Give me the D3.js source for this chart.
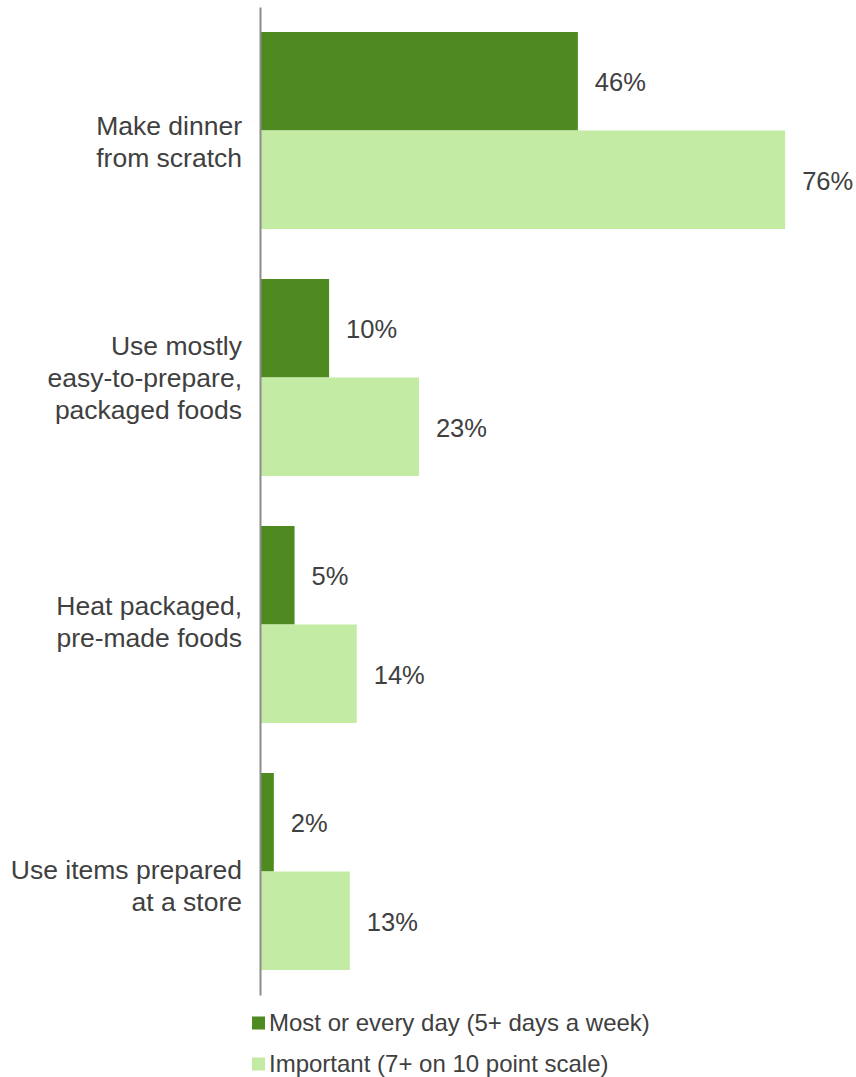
<!DOCTYPE html>
<html>
<head>
<meta charset="utf-8">
<script src="https://cdn.jsdelivr.net/npm/d3@7"></script>
<style>
  html, body { margin: 0; padding: 0; background: #fff; }
  svg { display: block; }
  text { font-family: "Liberation Sans", Arial, sans-serif; fill: #404040; }
</style>
</head>
<body>
<svg id="chart" width="856" height="1077"></svg>
<script>
// Dinner preparation habits
const categories = [
  ["Make dinner", "from scratch"],
  ["Use mostly", "easy-to-prepare,", "packaged foods"],
  ["Heat packaged,", "pre-made foods"],
  ["Use items prepared", "at a store"]
];
const seriesNames = [
  "Most or every day (5+ days a week)",
  "Important (7+ on 10 point scale)"
];
const mostDays = [46, 10, 5, 2];
const important = [76, 23, 14, 13];
const seriesColors = ["#4e8a1f", "#c4eba4"];

// vertical nudge of each category label block relative to its band centre
const labelNudge = [11, 0, -3, 14];

const svg = d3.select("#chart");
const axisX = 260;

const keys = categories.map((c, i) => i);
const y = d3.scaleBand().domain(keys).range([7, 995]).paddingInner(50 / 247).paddingOuter(25 / 247);
const ySub = d3.scaleBand().domain([0, 1]).range([0, y.bandwidth()]);
const x = d3.scaleLinear().domain([0, 100]).range([axisX, axisX + 691]);

const rows = keys.map(i => ({ i, vals: [mostDays[i], important[i]] }));

const g = svg.append("g");
const groups = g.selectAll("g.cat").data(rows).join("g")
  .attr("class", "cat")
  .attr("transform", d => `translate(0,${y(d.i)})`);

groups.selectAll("rect").data(d => d.vals.map((v, s) => ({ v, s }))).join("rect")
  .attr("x", x(0))
  .attr("y", d => ySub(d.s))
  .attr("width", d => x(d.v) - x(0))
  .attr("height", ySub.bandwidth())
  .attr("fill", d => seriesColors[d.s]);

groups.selectAll("text.val").data(d => d.vals.map((v, s) => ({ v, s }))).join("text")
  .attr("class", "val")
  .attr("x", d => x(d.v) + 17)
  .attr("y", d => ySub(d.s) + ySub.bandwidth() / 2 + 1)
  .attr("dy", "0.35em")
  .style("font-size", "25.5px")
  .text(d => d.v + "%");

// Category labels, right-aligned against the axis
const lineH = 32;
groups.append("text")
  .attr("class", "cat-label")
  .attr("text-anchor", "end")
  .style("font-size", "26.5px")
  .each(function (d) {
    const lines = categories[d.i];
    const t = d3.select(this);
    const c = y.bandwidth() / 2 + labelNudge[d.i];
    lines.forEach((ln, k) => {
      t.append("tspan")
        .attr("x", 242)
        .attr("y", c + (k - (lines.length - 1) / 2) * lineH)
        .attr("dy", "0.35em")
        .text(ln);
    });
  });

// Vertical category axis
const yAxis = d3.axisLeft(d3.scaleLinear().range([7, 995])).ticks(0).tickSize(0).tickFormat("");
const ax = svg.append("g").attr("transform", `translate(${axisX},0)`).call(yAxis);
ax.select(".domain").attr("stroke", "#8c8c8c").attr("stroke-width", 2);

// Legend
const legend = svg.append("g").selectAll("g").data(seriesNames).join("g")
  .attr("transform", (d, i) => `translate(252,${1023 + i * 41})`);
legend.append("rect")
  .attr("x", 0).attr("y", -6.5).attr("width", 13).attr("height", 13)
  .attr("fill", (d, i) => seriesColors[i]);
legend.append("text")
  .attr("x", 17).attr("y", 0).attr("dy", "0.35em")
  .style("font-size", "24px")
  .text(d => d);
</script>
</body>
</html>
